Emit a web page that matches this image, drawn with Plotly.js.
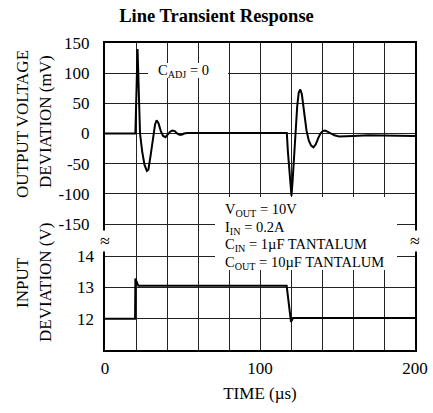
<!DOCTYPE html>
<html>
<head>
<meta charset="utf-8">
<script src="https://cdn.plot.ly/plotly-3.0.1.min.js"></script>
<style>html,body{margin:0;padding:0;background:#fff;}#chart{width:433px;height:413px;}</style>
</head>
<body>
<div id="chart"></div>
<script>
// Output voltage deviation (mV) vs time (µs)
var outTime = [0, 19.6, 20.3, 21.0, 21.8, 22.6, 24.0, 25.5, 27.0, 28.0, 29.5, 31.0, 32.3, 33.3, 34.5, 36.0, 37.5, 39.0, 40.5, 42.0, 43.5, 45.0, 46.5, 48.0, 49.5, 51.0, 53.0,
  117.3, 118.0, 119.0, 120.3, 121.0, 122.0, 123.0, 124.0, 125.0, 126.0, 127.0, 128.5, 130.0, 131.5, 133.0, 134.5, 136.0, 137.5, 139.0, 140.5, 142.0, 143.5, 145.5, 148, 151, 155, 160, 170, 180, 190, 200];
var outMv = [0, 0, 70, 140, 70, 0, -30, -52, -62, -60, -35, -5, 15, 22, 17, 4, -4, -6, -2, 3, 5, 4, 0, -2, -2, 0, 1,
  1, -30, -70, -103, -80, -35, 10, 45, 68, 73, 65, 35, 5, -12, -20, -23, -18, -8, 0, 4, 5, 3, 0, -3, -5, -5, -4, -3, -3, -3, -4];
// Input voltage (V) vs time (µs)
var inTime = [0, 19.4, 19.6, 21.5, 117.2, 120.0, 121.3, 200];
var inV = [12.0, 12.0, 13.28, 13.05, 13.05, 11.9, 12.02, 12.02];

// Axis ticks
var xTickVals = [0, 100, 200];
var xTickText = ['0', '100', '200'];
var xGridVals = [20, 40, 60, 80, 120, 140, 160, 180];
var yTickVals = [-150, -100, -50, 0, 50, 100, 150];
var yTickText = ['-150', '-100', '-50', '0', '50', '100', '150'];
var y2TickVals = [12, 13, 14];
var y2TickText = ['12', '13', '14'];

var FONT = 'Liberation Serif, Times New Roman, serif';

var traces = [
  {x: outTime, y: outMv, type: 'scatter', mode: 'lines', line: {color: '#000', width: 2}, yaxis: 'y', hoverinfo: 'none'},
  {x: inTime, y: inV, type: 'scatter', mode: 'lines', line: {color: '#000', width: 2}, yaxis: 'y2', hoverinfo: 'none'}
];

function px2x(p){ return (p - 105) / 310; }
function px2y(p){ return (350 - p) / 307; }

var annFont = {family: FONT, size: 14.5, color: '#000'};
function ann(text, px, py, opts){
  var a = {text: text, xref: 'paper', yref: 'paper', x: px2x(px), y: px2y(py), xanchor: 'center', yanchor: 'middle', showarrow: false, font: annFont};
  for (var k in (opts || {})) a[k] = opts[k];
  return a;
}
var titleFont = {family: FONT, size: 17, color: '#000'};

var layout = {
  width: 433, height: 413,
  margin: {l: 105, r: 18, t: 43, b: 63},
  paper_bgcolor: '#fff', plot_bgcolor: '#fff',
  font: {family: FONT, color: '#000'},
  showlegend: false,
  title: {text: '<b>Line Transient Response</b>', font: {family: FONT, size: 18.5, color: '#000'}, x: 0.5, xanchor: 'center', y: 1 - 16/413, yanchor: 'middle'},
  xaxis: {
    range: [0, 200], tickvals: xTickVals, ticktext: xTickText, ticks: '',
    showgrid: true, gridcolor: '#222', gridwidth: 1, zeroline: false,
    minor: {tickvals: xGridVals, showgrid: true, gridcolor: '#222', gridwidth: 1, ticks: ''},
    showline: true, mirror: true, linecolor: '#000', linewidth: 2,
    tickfont: {family: FONT, size: 17, color: '#000'}, ticklabelstandoff: 2,
    title: {text: 'TIME (µs)', font: titleFont, standoff: 10}
  },
  yaxis: {
    range: [-358.8, 150], tickvals: yTickVals, ticktext: yTickText, ticks: '',
    showgrid: true, gridcolor: '#222', gridwidth: 1, zeroline: false,
    showline: true, mirror: true, linecolor: '#000', linewidth: 2,
    tickfont: {family: FONT, size: 17, color: '#000'}, ticklabelstandoff: 10
  },
  yaxis2: {
    range: [11, 20.8], tickvals: y2TickVals, ticktext: y2TickText, ticks: '',
    overlaying: 'y', side: 'left', anchor: 'x',
    showgrid: true, gridcolor: '#222', gridwidth: 1, zeroline: false, showline: false,
    tickfont: {family: FONT, size: 17, color: '#000'}, ticklabelstandoff: 10
  },
  shapes: [
    {type: 'rect', xref: 'paper', yref: 'paper', x0: px2x(215), x1: px2x(397), y0: px2y(270), y1: px2y(197), fillcolor: '#fff', line: {width: 0}, layer: 'above'},
    {type: 'rect', xref: 'paper', yref: 'paper', x0: px2x(148), x1: px2x(228), y0: px2y(78), y1: px2y(63), fillcolor: '#fff', line: {width: 0}, layer: 'above'}
  ],
  annotations: [
    ann('OUTPUT VOLTAGE', 22, 124, {textangle: -90, font: titleFont}),
    ann('DEVIATION (mV)', 45, 122, {textangle: -90, font: titleFont}),
    ann('INPUT', 22, 283, {textangle: -90, font: titleFont}),
    ann('DEVIATION (V)', 45, 283, {textangle: -90, font: titleFont}),
    ann('C<sub>ADJ</sub> = 0', 183, 71),
    ann('V<sub>OUT</sub> = 10V', 223, 210, {xanchor: 'left'}),
    ann('I<sub>IN</sub> = 0.2A', 223, 227.5, {xanchor: 'left'}),
    ann('C<sub>IN</sub> = 1µF TANTALUM', 223, 245, {xanchor: 'left'}),
    ann('C<sub>OUT</sub> = 10µF TANTALUM', 223, 262.5, {xanchor: 'left'}),
    ann('≈', 105, 241, {bgcolor: '#fff', borderpad: 0, font: {family: FONT, size: 18, color: '#000'}}),
    ann('≈', 415, 241, {bgcolor: '#fff', borderpad: 0, font: {family: FONT, size: 18, color: '#000'}})
  ]
};

Plotly.newPlot('chart', traces, layout, {staticPlot: true, displayModeBar: false});
</script>
</body>
</html>
